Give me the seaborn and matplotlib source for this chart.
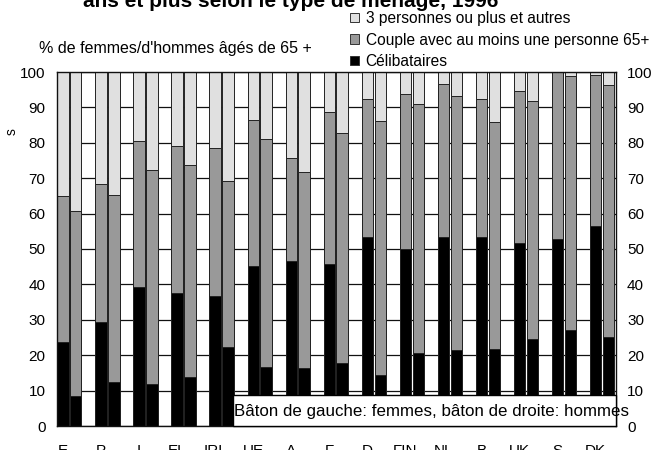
import numpy as np
import pandas as pd
import matplotlib
matplotlib.use("Agg")
import matplotlib.pyplot as plt
from matplotlib.patches import Patch, Rectangle
import seaborn as sns

countries = ["E", "P", "I", "EL", "IRL", "UE", "A", "F", "D", "FIN", "NL", "B", "UK", "S", "DK"]
women_single = [23.6, 29.3, 39.4, 37.5, 36.8, 45.2, 46.6, 45.8, 53.5, 50.0, 53.5, 53.5, 51.7, 52.9, 56.6]
women_couple = [41.4, 39.1, 41.0, 41.5, 41.8, 41.3, 29.2, 42.8, 38.8, 43.9, 43.0, 38.8, 42.8, 47.1, 42.6]
women_other = [35.0, 31.6, 19.6, 21.0, 21.4, 13.5, 24.2, 11.4, 7.7, 6.1, 3.5, 7.7, 5.5, 0.0, 0.8]
men_single = [8.5, 12.4, 11.9, 13.9, 22.2, 16.8, 16.3, 17.8, 14.4, 20.7, 21.4, 21.7, 24.6, 27.1, 25.1]
men_couple = [52.1, 52.9, 60.5, 59.9, 47.0, 64.2, 55.5, 65.0, 71.8, 70.3, 71.8, 64.3, 67.3, 71.9, 71.3]
men_other = [39.4, 34.7, 27.6, 26.2, 30.8, 19.0, 28.2, 17.2, 13.8, 9.0, 6.8, 14.0, 8.1, 1.0, 3.6]

legend_labels = ["3 personnes ou plus et autres", "Couple avec au moins une personne 65+", "Célibataires"]
title_text = "ans et plus selon le type de ménage, 1996"
ylabel_text = "% de femmes/d'hommes âgés de 65 +"
note_text = "Bâton de gauche: femmes, bâton de droite: hommes"

c_single, c_couple, c_other = "#000000", "#999999", "#e0e0e0"

rows = []
for i, c in enumerate(countries):
    for sex, s, cp, o in (("F", women_single[i], women_couple[i], women_other[i]),
                          ("H", men_single[i], men_couple[i], men_other[i])):
        rows.append({"pays": c, "sexe": sex,
                     "single": s, "couple_top": s + cp, "total": s + cp + o})
df = pd.DataFrame(rows)

plt.rcParams["font.family"] = ["Liberation Sans", "DejaVu Sans"]

fig = plt.figure(figsize=(6.6, 4.5), dpi=100)
L, R, T, B = 57.3, 615.5, 72.0, 426.0
ax = fig.add_axes([L / 660, 1 - B / 450, (R - L) / 660, (B - T) / 450])

common = dict(data=df, x="pays", hue="sexe", hue_order=["F", "H"], order=countries,
              dodge=True, width=0.676, gap=0.12, errorbar=None, legend=False,
              edgecolor="#222222", linewidth=0.7, ax=ax)
sns.barplot(y="total", palette={"F": c_other, "H": c_other}, **common)
sns.barplot(y="couple_top", palette={"F": c_couple, "H": c_couple}, **common)
sns.barplot(y="single", palette={"F": c_single, "H": c_single}, **common)

ax.set_ylim(0, 100)
ax.set_xlim(-0.3175, 14.355)
ax.set_yticks(np.arange(0, 101, 10))
ax.set_xticks(np.arange(len(countries)) - 0.169, labels=countries)
ax.set_xlabel("")
ax.set_ylabel("")
ax.grid(axis="y", color="#111111", linewidth=0.9)
ax.grid(axis="x", visible=False)
ax.set_axisbelow(True)
ax.tick_params(axis="both", length=0, labelsize=11)
ax.tick_params(axis="y", pad=8.5)
ax.tick_params(axis="x", pad=13.2)
for sp in ax.spines.values():
    sp.set_color("#111111")
    sp.set_linewidth(1.0)

ax2 = ax.twinx()
ax2.set_ylim(0, 100)
ax2.set_yticks(np.arange(0, 101, 10))
ax2.tick_params(axis="y", length=0, labelsize=11, pad=8.3)
for sp in ax2.spines.values():
    sp.set_visible(False)

# note box at bottom
box_left = 4.30
ax.add_patch(Rectangle((box_left, 0), ax.get_xlim()[1] - box_left, 8.8,
                       facecolor="white", edgecolor="black", linewidth=1.0,
                       zorder=10, clip_on=False))
ax.text(box_left + 0.04, 4.05, note_text, ha="left", va="center", fontsize=12.2, zorder=11)

fig.text(83 / 660, 1 - 6.7 / 450, title_text, ha="left", va="baseline",
         fontsize=15, fontweight="bold")
fig.text(39 / 660, 1 - 48 / 450, ylabel_text, ha="left", va="center", fontsize=11.5)
fig.text(12 / 660, 1 - 132 / 450, "s", ha="center", va="center", fontsize=10, rotation=90)

handles = [Patch(facecolor=c_other, edgecolor="#333333", linewidth=0.7),
           Patch(facecolor=c_couple, edgecolor="#333333", linewidth=0.7),
           Patch(facecolor=c_single, edgecolor="#333333", linewidth=0.7)]
fig.legend(handles, legend_labels, loc="upper left",
           bbox_to_anchor=(350 / 660, 1 - 11 / 450), frameon=False, fontsize=11.2,
           handlelength=0.55, handleheight=0.55, handletextpad=0.45,
           labelspacing=0.42, borderpad=0, borderaxespad=0)

fig.savefig("out.png", dpi=100)
